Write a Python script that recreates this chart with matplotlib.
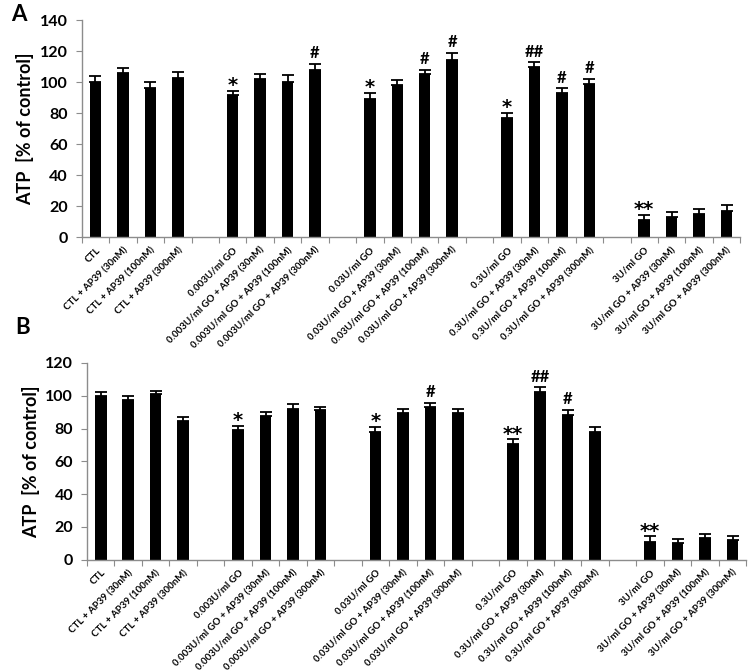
import numpy as np
import matplotlib.pyplot as plt

plt.rcParams['font.family'] = ['Lato', 'DejaVu Sans']
plt.rcParams['font.weight'] = 'bold'

labels = ['CTL', 'CTL + AP39 (30nM)', 'CTL + AP39 (100nM)', 'CTL + AP39 (300nM)',
          '0.003U/ml GO', '0.003U/ml GO + AP39 (30nM)', '0.003U/ml GO + AP39 (100nM)', '0.003U/ml GO + AP39 (300nM)',
          '0.03U/ml GO', '0.03U/ml GO + AP39 (30nM)', '0.03U/ml GO + AP39 (100nM)', '0.03U/ml GO + AP39 (300nM)',
          '0.3U/ml GO', '0.3U/ml GO + AP39 (30nM)', '0.3U/ml GO + AP39 (100nM)', '0.3U/ml GO + AP39 (300nM)',
          '3U/ml GO', '3U/ml GO + AP39 (30nM)', '3U/ml GO + AP39 (100nM)', '3U/ml GO + AP39 (300nM)']

atp_a = [100, 106, 96.5, 103, 92, 102, 100, 108, 89, 98, 105, 114.5,
         77, 109.5, 93, 99, 11, 13, 15, 17]
err_a = [3.7, 3, 3.5, 3.5, 2.4, 3, 4.5, 4, 4, 3.5, 3, 4.4,
         3, 3.2, 3, 3, 3.2, 3, 3.4, 3.5]
sig_a = ['', '', '', '', '*', '', '', '#', '*', '', '#', '#',
         '*', '##', '#', '#', '**', '', '', '']

atp_b = [100, 97.4, 100.9, 84.8, 79, 87.7, 91.7, 91, 78, 89.5, 93, 89.5,
         70.6, 102.3, 88.5, 78, 10.8, 10.2, 13.2, 11.8]
err_b = [2.2, 2.3, 2.2, 2, 2.5, 2.6, 3, 2.3, 3, 2.6, 2.5, 2.4,
         2.8, 2.8, 3, 2.8, 3.4, 2.6, 2.7, 2.6]
sig_b = ['', '', '', '', '*', '', '', '', '*', '', '#', '',
         '**', '##', '#', '', '**', '', '', '']

group_size = 4
n_slots = len(labels) + len(labels) // group_size - 1
axis_grey = '#8c8c8c'


def draw_panel(ax, values, errors, marks, ymax):
    idx = np.arange(len(values))
    pos = idx + idx // group_size + 0.5  # one empty slot between groups
    ax.bar(pos, values, width=0.42, color='black', zorder=2)
    ax.errorbar(pos, values, yerr=[np.zeros(len(errors)), errors], fmt='none',
                ecolor='black', elinewidth=1.3, capsize=4, capthick=1.3, zorder=3)
    for x, v, e, m in zip(pos, values, errors, marks):
        if not m:
            continue
        if '*' in m:
            # asterisks drawn larger, like the original
            ax.annotate(m, (x, v + e), xytext=(0, -3),
                        textcoords='offset points', ha='center', va='bottom',
                        fontsize=14, fontweight='bold', family='DejaVu Sans')
        else:
            ax.annotate(m, (x, v + e), xytext=(0, 2), textcoords='offset points',
                        ha='center', va='bottom', fontsize=12, fontweight='bold')

    ax.set_xlim(0, n_slots)
    ax.set_ylim(0, ymax)
    ax.set_yticks(np.arange(0, ymax + 1, 20))
    ax.set_xticks(np.arange(0, n_slots + 1))
    ax.set_xticklabels([])
    ax.set_xticks(pos, minor=True)
    ax.set_xticklabels(labels, minor=True, rotation=45, ha='right',
                       rotation_mode='anchor', fontsize=7, fontweight='bold')
    ax.tick_params(axis='x', which='major', length=4, color=axis_grey, direction='out')
    ax.tick_params(axis='x', which='minor', length=0, pad=6)
    ax.tick_params(axis='y', length=4, color=axis_grey, labelsize=11.5, pad=6)
    for t in ax.get_yticklabels():
        t.set_fontweight('bold')
    for s in ['top', 'right']:
        ax.spines[s].set_visible(False)
    for s in ['left', 'bottom']:
        ax.spines[s].set_color(axis_grey)
        ax.spines[s].set_linewidth(1.0)
    ax.set_ylabel('ATP  [% of control]', fontsize=13, fontweight='bold', labelpad=4)


fig = plt.figure(figsize=(7.5, 6.72), dpi=100)
ax_a = fig.add_axes([0.109, 0.647, 0.878, 0.323])
ax_b = fig.add_axes([0.116, 0.167, 0.879, 0.293])

draw_panel(ax_a, atp_a, err_a, sig_a, 140)
draw_panel(ax_b, atp_b, err_b, sig_b, 120)

fig.text(0.015, 0.978, 'A', fontsize=16, fontweight='bold', va='center', ha='left')
fig.text(0.02, 0.512, 'B', fontsize=16, fontweight='bold', va='center', ha='left')

fig.savefig('out.png', dpi=100)
